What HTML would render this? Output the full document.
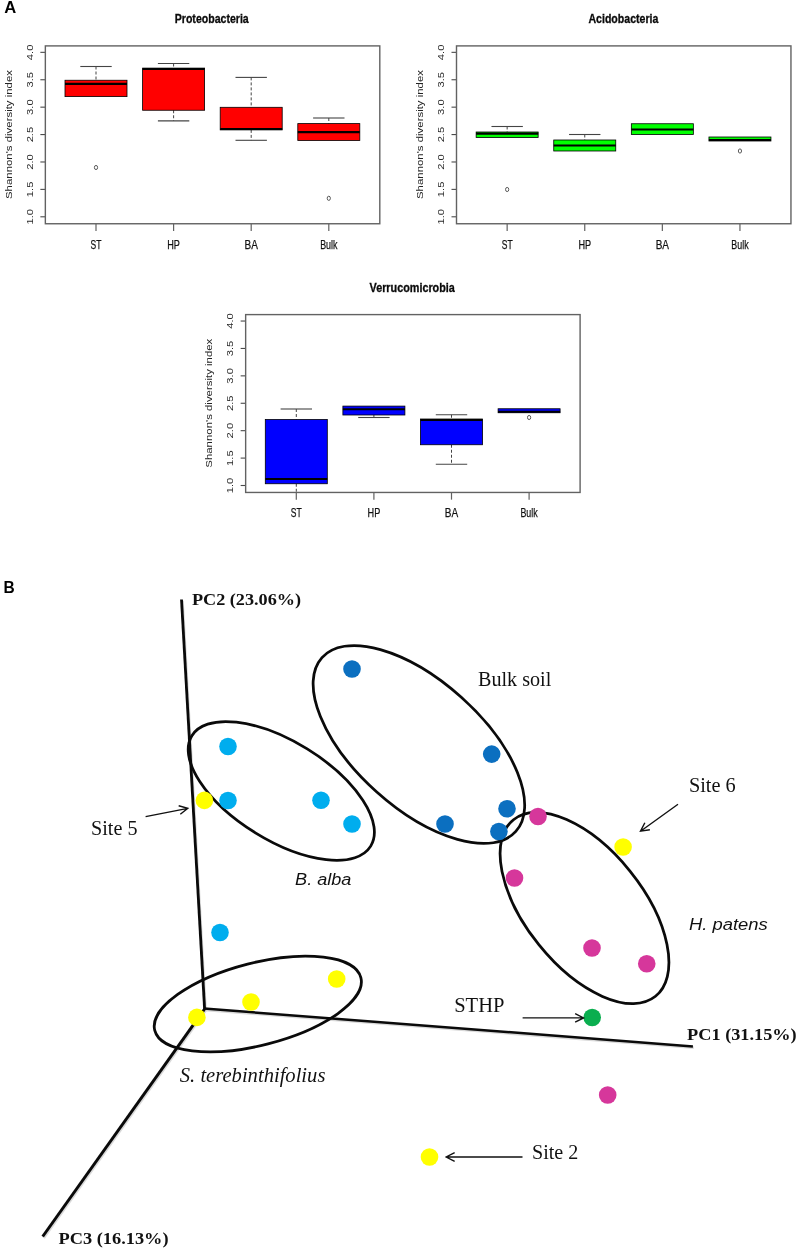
<!DOCTYPE html>
<html lang="en"><head><meta charset="utf-8"><title>Figure</title>
<style>html,body{margin:0;padding:0;background:#fff}svg{display:block}</style></head>
<body>
<svg width="800" height="1252" viewBox="0 0 800 1252">
<rect width="800" height="1252" fill="#fff"/>
<text x="4.3" y="12.9" font-size="16.6" font-weight="bold" font-family="Liberation Sans, sans-serif" fill="#000">A</text>
<text x="3.4" y="592.7" font-size="16.6" font-weight="bold" textLength="11.2" lengthAdjust="spacingAndGlyphs" font-family="Liberation Sans, sans-serif" fill="#000">B</text>
<g>
<text x="211.75" y="23.3" font-size="12.6" text-anchor="middle" font-weight="bold" font-style="normal" font-family="Liberation Sans, sans-serif" fill="#0a0a0a" stroke="#0a0a0a" stroke-width="0.3" textLength="74" lengthAdjust="spacingAndGlyphs">Proteobacteria</text>
<text transform="translate(11.6,134.5) rotate(-90)" font-size="8.6" text-anchor="middle" font-family="Liberation Sans, sans-serif" fill="#222" textLength="129" lengthAdjust="spacingAndGlyphs">Shannon&#39;s diversity index</text>
<line x1="40.35" y1="216.80" x2="45.35" y2="216.80" stroke="#4a4a4a" stroke-width="1.1"/>
<text transform="translate(32.6,216.8) rotate(-90)" font-size="8.6" text-anchor="middle" font-family="Liberation Sans, sans-serif" fill="#2a2a2a" textLength="15.6" lengthAdjust="spacingAndGlyphs">1.0</text>
<line x1="40.35" y1="189.39" x2="45.35" y2="189.39" stroke="#4a4a4a" stroke-width="1.1"/>
<text transform="translate(32.6,189.39) rotate(-90)" font-size="8.6" text-anchor="middle" font-family="Liberation Sans, sans-serif" fill="#2a2a2a" textLength="15.6" lengthAdjust="spacingAndGlyphs">1.5</text>
<line x1="40.35" y1="161.98" x2="45.35" y2="161.98" stroke="#4a4a4a" stroke-width="1.1"/>
<text transform="translate(32.6,161.98) rotate(-90)" font-size="8.6" text-anchor="middle" font-family="Liberation Sans, sans-serif" fill="#2a2a2a" textLength="15.6" lengthAdjust="spacingAndGlyphs">2.0</text>
<line x1="40.35" y1="134.57" x2="45.35" y2="134.57" stroke="#4a4a4a" stroke-width="1.1"/>
<text transform="translate(32.6,134.57) rotate(-90)" font-size="8.6" text-anchor="middle" font-family="Liberation Sans, sans-serif" fill="#2a2a2a" textLength="15.6" lengthAdjust="spacingAndGlyphs">2.5</text>
<line x1="40.35" y1="107.16" x2="45.35" y2="107.16" stroke="#4a4a4a" stroke-width="1.1"/>
<text transform="translate(32.6,107.16) rotate(-90)" font-size="8.6" text-anchor="middle" font-family="Liberation Sans, sans-serif" fill="#2a2a2a" textLength="15.6" lengthAdjust="spacingAndGlyphs">3.0</text>
<line x1="40.35" y1="79.75" x2="45.35" y2="79.75" stroke="#4a4a4a" stroke-width="1.1"/>
<text transform="translate(32.6,79.75) rotate(-90)" font-size="8.6" text-anchor="middle" font-family="Liberation Sans, sans-serif" fill="#2a2a2a" textLength="15.6" lengthAdjust="spacingAndGlyphs">3.5</text>
<line x1="40.35" y1="52.34" x2="45.35" y2="52.34" stroke="#4a4a4a" stroke-width="1.1"/>
<text transform="translate(32.6,52.34) rotate(-90)" font-size="8.6" text-anchor="middle" font-family="Liberation Sans, sans-serif" fill="#2a2a2a" textLength="15.6" lengthAdjust="spacingAndGlyphs">4.0</text>
<line x1="96.0" y1="223.75" x2="96.0" y2="230.95" stroke="#626262" stroke-width="1.2"/>
<text x="96.0" y="248.6" font-size="12.5" text-anchor="middle" font-weight="normal" font-style="normal" font-family="Liberation Sans, sans-serif" fill="#111" stroke="#111" stroke-width="0.25" textLength="10.9" lengthAdjust="spacingAndGlyphs">ST</text>
<line x1="173.6" y1="223.75" x2="173.6" y2="230.95" stroke="#626262" stroke-width="1.2"/>
<text x="173.6" y="248.6" font-size="12.5" text-anchor="middle" font-weight="normal" font-style="normal" font-family="Liberation Sans, sans-serif" fill="#111" stroke="#111" stroke-width="0.25" textLength="12.7" lengthAdjust="spacingAndGlyphs">HP</text>
<line x1="251.2" y1="223.75" x2="251.2" y2="230.95" stroke="#626262" stroke-width="1.2"/>
<text x="251.2" y="248.6" font-size="12.5" text-anchor="middle" font-weight="normal" font-style="normal" font-family="Liberation Sans, sans-serif" fill="#111" stroke="#111" stroke-width="0.25" textLength="13.4" lengthAdjust="spacingAndGlyphs">BA</text>
<line x1="328.8" y1="223.75" x2="328.8" y2="230.95" stroke="#626262" stroke-width="1.2"/>
<text x="328.8" y="248.6" font-size="12.5" text-anchor="middle" font-weight="normal" font-style="normal" font-family="Liberation Sans, sans-serif" fill="#111" stroke="#111" stroke-width="0.25" textLength="17.3" lengthAdjust="spacingAndGlyphs">Bulk</text>
<line x1="96.0" y1="66.5" x2="96.0" y2="80.25" stroke="#444" stroke-width="1" stroke-dasharray="3,2"/>
<line x1="80.3" y1="66.5" x2="111.7" y2="66.5" stroke="#444" stroke-width="1.1"/>
<rect x="65.0" y="80.25" width="62.0" height="16.35" fill="#ff0000" stroke="#000" stroke-width="0.8"/>
<line x1="65.0" y1="83.9" x2="127.0" y2="83.9" stroke="#000" stroke-width="2.2"/>
<ellipse cx="96.0" cy="167.5" rx="1.6" ry="2.1" fill="none" stroke="#333" stroke-width="0.8"/>
<line x1="173.6" y1="63.5" x2="173.6" y2="68.1" stroke="#444" stroke-width="1" stroke-dasharray="3,2"/>
<line x1="157.9" y1="63.5" x2="189.29999999999998" y2="63.5" stroke="#444" stroke-width="1.1"/>
<line x1="173.6" y1="110.25" x2="173.6" y2="120.9" stroke="#444" stroke-width="1" stroke-dasharray="3,2"/>
<line x1="157.9" y1="120.9" x2="189.29999999999998" y2="120.9" stroke="#444" stroke-width="1.1"/>
<rect x="142.6" y="68.1" width="62.0" height="42.15" fill="#ff0000" stroke="#000" stroke-width="0.8"/>
<line x1="142.6" y1="69.0" x2="204.6" y2="69.0" stroke="#000" stroke-width="2.2"/>
<line x1="251.2" y1="77.4" x2="251.2" y2="107.3" stroke="#444" stroke-width="1" stroke-dasharray="3,2"/>
<line x1="235.5" y1="77.4" x2="266.9" y2="77.4" stroke="#444" stroke-width="1.1"/>
<line x1="251.2" y1="129.9" x2="251.2" y2="140.3" stroke="#444" stroke-width="1" stroke-dasharray="3,2"/>
<line x1="235.5" y1="140.3" x2="266.9" y2="140.3" stroke="#444" stroke-width="1.1"/>
<rect x="220.2" y="107.3" width="62.0" height="22.60" fill="#ff0000" stroke="#000" stroke-width="0.8"/>
<line x1="220.2" y1="129.0" x2="282.2" y2="129.0" stroke="#000" stroke-width="2.2"/>
<line x1="328.8" y1="118.0" x2="328.8" y2="123.6" stroke="#444" stroke-width="1" stroke-dasharray="3,2"/>
<line x1="313.1" y1="118.0" x2="344.5" y2="118.0" stroke="#444" stroke-width="1.1"/>
<rect x="297.8" y="123.6" width="62.0" height="16.90" fill="#ff0000" stroke="#000" stroke-width="0.8"/>
<line x1="297.8" y1="132.2" x2="359.8" y2="132.2" stroke="#000" stroke-width="2.2"/>
<ellipse cx="328.8" cy="198.3" rx="1.6" ry="2.1" fill="none" stroke="#333" stroke-width="0.8"/>
<rect x="45.35" y="45.9" width="334.45" height="177.85" fill="none" stroke="#626262" stroke-width="1.4"/>
</g>
<g>
<text x="623.4" y="23.3" font-size="12.6" text-anchor="middle" font-weight="bold" font-style="normal" font-family="Liberation Sans, sans-serif" fill="#0a0a0a" stroke="#0a0a0a" stroke-width="0.3" textLength="69.9" lengthAdjust="spacingAndGlyphs">Acidobacteria</text>
<text transform="translate(422.75,134.5) rotate(-90)" font-size="8.6" text-anchor="middle" font-family="Liberation Sans, sans-serif" fill="#222" textLength="129" lengthAdjust="spacingAndGlyphs">Shannon&#39;s diversity index</text>
<line x1="451.5" y1="216.80" x2="456.5" y2="216.80" stroke="#4a4a4a" stroke-width="1.1"/>
<text transform="translate(443.75,216.8) rotate(-90)" font-size="8.6" text-anchor="middle" font-family="Liberation Sans, sans-serif" fill="#2a2a2a" textLength="15.6" lengthAdjust="spacingAndGlyphs">1.0</text>
<line x1="451.5" y1="189.39" x2="456.5" y2="189.39" stroke="#4a4a4a" stroke-width="1.1"/>
<text transform="translate(443.75,189.39) rotate(-90)" font-size="8.6" text-anchor="middle" font-family="Liberation Sans, sans-serif" fill="#2a2a2a" textLength="15.6" lengthAdjust="spacingAndGlyphs">1.5</text>
<line x1="451.5" y1="161.98" x2="456.5" y2="161.98" stroke="#4a4a4a" stroke-width="1.1"/>
<text transform="translate(443.75,161.98) rotate(-90)" font-size="8.6" text-anchor="middle" font-family="Liberation Sans, sans-serif" fill="#2a2a2a" textLength="15.6" lengthAdjust="spacingAndGlyphs">2.0</text>
<line x1="451.5" y1="134.57" x2="456.5" y2="134.57" stroke="#4a4a4a" stroke-width="1.1"/>
<text transform="translate(443.75,134.57) rotate(-90)" font-size="8.6" text-anchor="middle" font-family="Liberation Sans, sans-serif" fill="#2a2a2a" textLength="15.6" lengthAdjust="spacingAndGlyphs">2.5</text>
<line x1="451.5" y1="107.16" x2="456.5" y2="107.16" stroke="#4a4a4a" stroke-width="1.1"/>
<text transform="translate(443.75,107.16) rotate(-90)" font-size="8.6" text-anchor="middle" font-family="Liberation Sans, sans-serif" fill="#2a2a2a" textLength="15.6" lengthAdjust="spacingAndGlyphs">3.0</text>
<line x1="451.5" y1="79.75" x2="456.5" y2="79.75" stroke="#4a4a4a" stroke-width="1.1"/>
<text transform="translate(443.75,79.75) rotate(-90)" font-size="8.6" text-anchor="middle" font-family="Liberation Sans, sans-serif" fill="#2a2a2a" textLength="15.6" lengthAdjust="spacingAndGlyphs">3.5</text>
<line x1="451.5" y1="52.34" x2="456.5" y2="52.34" stroke="#4a4a4a" stroke-width="1.1"/>
<text transform="translate(443.75,52.34) rotate(-90)" font-size="8.6" text-anchor="middle" font-family="Liberation Sans, sans-serif" fill="#2a2a2a" textLength="15.6" lengthAdjust="spacingAndGlyphs">4.0</text>
<line x1="507.15" y1="223.75" x2="507.15" y2="230.95" stroke="#626262" stroke-width="1.2"/>
<text x="507.15" y="248.6" font-size="12.5" text-anchor="middle" font-weight="normal" font-style="normal" font-family="Liberation Sans, sans-serif" fill="#111" stroke="#111" stroke-width="0.25" textLength="10.9" lengthAdjust="spacingAndGlyphs">ST</text>
<line x1="584.75" y1="223.75" x2="584.75" y2="230.95" stroke="#626262" stroke-width="1.2"/>
<text x="584.75" y="248.6" font-size="12.5" text-anchor="middle" font-weight="normal" font-style="normal" font-family="Liberation Sans, sans-serif" fill="#111" stroke="#111" stroke-width="0.25" textLength="12.7" lengthAdjust="spacingAndGlyphs">HP</text>
<line x1="662.3499999999999" y1="223.75" x2="662.3499999999999" y2="230.95" stroke="#626262" stroke-width="1.2"/>
<text x="662.3499999999999" y="248.6" font-size="12.5" text-anchor="middle" font-weight="normal" font-style="normal" font-family="Liberation Sans, sans-serif" fill="#111" stroke="#111" stroke-width="0.25" textLength="13.4" lengthAdjust="spacingAndGlyphs">BA</text>
<line x1="739.95" y1="223.75" x2="739.95" y2="230.95" stroke="#626262" stroke-width="1.2"/>
<text x="739.95" y="248.6" font-size="12.5" text-anchor="middle" font-weight="normal" font-style="normal" font-family="Liberation Sans, sans-serif" fill="#111" stroke="#111" stroke-width="0.25" textLength="17.3" lengthAdjust="spacingAndGlyphs">Bulk</text>
<line x1="507.15" y1="126.5" x2="507.15" y2="132.0" stroke="#444" stroke-width="1" stroke-dasharray="3,2"/>
<line x1="491.45" y1="126.5" x2="522.85" y2="126.5" stroke="#444" stroke-width="1.1"/>
<rect x="476.15" y="132.0" width="62.0" height="5.50" fill="#00ff00" stroke="#000" stroke-width="0.8"/>
<line x1="476.15" y1="133.6" x2="538.15" y2="133.6" stroke="#000" stroke-width="2.2"/>
<ellipse cx="507.15" cy="189.5" rx="1.6" ry="2.1" fill="none" stroke="#333" stroke-width="0.8"/>
<line x1="584.75" y1="134.5" x2="584.75" y2="140.0" stroke="#444" stroke-width="1" stroke-dasharray="3,2"/>
<line x1="569.05" y1="134.5" x2="600.45" y2="134.5" stroke="#444" stroke-width="1.1"/>
<rect x="553.75" y="140.0" width="62.0" height="11.00" fill="#00ff00" stroke="#000" stroke-width="0.8"/>
<line x1="553.75" y1="145.5" x2="615.75" y2="145.5" stroke="#000" stroke-width="2.2"/>
<rect x="631.3499999999999" y="123.75" width="62.0" height="10.75" fill="#00ff00" stroke="#000" stroke-width="0.8"/>
<line x1="631.3499999999999" y1="129.5" x2="693.3499999999999" y2="129.5" stroke="#000" stroke-width="2.2"/>
<rect x="708.95" y="137.0" width="62.0" height="4.00" fill="#00ff00" stroke="#000" stroke-width="0.8"/>
<line x1="708.95" y1="140.0" x2="770.95" y2="140.0" stroke="#000" stroke-width="2.2"/>
<ellipse cx="739.95" cy="151.0" rx="1.6" ry="2.1" fill="none" stroke="#333" stroke-width="0.8"/>
<rect x="456.5" y="45.9" width="334.45" height="177.85" fill="none" stroke="#626262" stroke-width="1.4"/>
</g>
<g>
<text x="412.2" y="292.0" font-size="12.6" text-anchor="middle" font-weight="bold" font-style="normal" font-family="Liberation Sans, sans-serif" fill="#0a0a0a" stroke="#0a0a0a" stroke-width="0.3" textLength="85.3" lengthAdjust="spacingAndGlyphs">Verrucomicrobia</text>
<text transform="translate(211.9,403.2) rotate(-90)" font-size="8.6" text-anchor="middle" font-family="Liberation Sans, sans-serif" fill="#222" textLength="129" lengthAdjust="spacingAndGlyphs">Shannon&#39;s diversity index</text>
<line x1="240.65" y1="485.50" x2="245.65" y2="485.50" stroke="#4a4a4a" stroke-width="1.1"/>
<text transform="translate(232.9,485.5) rotate(-90)" font-size="8.6" text-anchor="middle" font-family="Liberation Sans, sans-serif" fill="#2a2a2a" textLength="15.6" lengthAdjust="spacingAndGlyphs">1.0</text>
<line x1="240.65" y1="458.09" x2="245.65" y2="458.09" stroke="#4a4a4a" stroke-width="1.1"/>
<text transform="translate(232.9,458.09) rotate(-90)" font-size="8.6" text-anchor="middle" font-family="Liberation Sans, sans-serif" fill="#2a2a2a" textLength="15.6" lengthAdjust="spacingAndGlyphs">1.5</text>
<line x1="240.65" y1="430.68" x2="245.65" y2="430.68" stroke="#4a4a4a" stroke-width="1.1"/>
<text transform="translate(232.9,430.68) rotate(-90)" font-size="8.6" text-anchor="middle" font-family="Liberation Sans, sans-serif" fill="#2a2a2a" textLength="15.6" lengthAdjust="spacingAndGlyphs">2.0</text>
<line x1="240.65" y1="403.27" x2="245.65" y2="403.27" stroke="#4a4a4a" stroke-width="1.1"/>
<text transform="translate(232.9,403.27) rotate(-90)" font-size="8.6" text-anchor="middle" font-family="Liberation Sans, sans-serif" fill="#2a2a2a" textLength="15.6" lengthAdjust="spacingAndGlyphs">2.5</text>
<line x1="240.65" y1="375.86" x2="245.65" y2="375.86" stroke="#4a4a4a" stroke-width="1.1"/>
<text transform="translate(232.9,375.86) rotate(-90)" font-size="8.6" text-anchor="middle" font-family="Liberation Sans, sans-serif" fill="#2a2a2a" textLength="15.6" lengthAdjust="spacingAndGlyphs">3.0</text>
<line x1="240.65" y1="348.45" x2="245.65" y2="348.45" stroke="#4a4a4a" stroke-width="1.1"/>
<text transform="translate(232.9,348.45) rotate(-90)" font-size="8.6" text-anchor="middle" font-family="Liberation Sans, sans-serif" fill="#2a2a2a" textLength="15.6" lengthAdjust="spacingAndGlyphs">3.5</text>
<line x1="240.65" y1="321.04" x2="245.65" y2="321.04" stroke="#4a4a4a" stroke-width="1.1"/>
<text transform="translate(232.9,321.04) rotate(-90)" font-size="8.6" text-anchor="middle" font-family="Liberation Sans, sans-serif" fill="#2a2a2a" textLength="15.6" lengthAdjust="spacingAndGlyphs">4.0</text>
<line x1="296.3" y1="492.45" x2="296.3" y2="499.65" stroke="#626262" stroke-width="1.2"/>
<text x="296.3" y="517.3" font-size="12.5" text-anchor="middle" font-weight="normal" font-style="normal" font-family="Liberation Sans, sans-serif" fill="#111" stroke="#111" stroke-width="0.25" textLength="10.9" lengthAdjust="spacingAndGlyphs">ST</text>
<line x1="373.9" y1="492.45" x2="373.9" y2="499.65" stroke="#626262" stroke-width="1.2"/>
<text x="373.9" y="517.3" font-size="12.5" text-anchor="middle" font-weight="normal" font-style="normal" font-family="Liberation Sans, sans-serif" fill="#111" stroke="#111" stroke-width="0.25" textLength="12.7" lengthAdjust="spacingAndGlyphs">HP</text>
<line x1="451.5" y1="492.45" x2="451.5" y2="499.65" stroke="#626262" stroke-width="1.2"/>
<text x="451.5" y="517.3" font-size="12.5" text-anchor="middle" font-weight="normal" font-style="normal" font-family="Liberation Sans, sans-serif" fill="#111" stroke="#111" stroke-width="0.25" textLength="13.4" lengthAdjust="spacingAndGlyphs">BA</text>
<line x1="529.1" y1="492.45" x2="529.1" y2="499.65" stroke="#626262" stroke-width="1.2"/>
<text x="529.1" y="517.3" font-size="12.5" text-anchor="middle" font-weight="normal" font-style="normal" font-family="Liberation Sans, sans-serif" fill="#111" stroke="#111" stroke-width="0.25" textLength="17.3" lengthAdjust="spacingAndGlyphs">Bulk</text>
<line x1="296.3" y1="409.0" x2="296.3" y2="419.5" stroke="#444" stroke-width="1" stroke-dasharray="3,2"/>
<line x1="280.6" y1="409.0" x2="312.0" y2="409.0" stroke="#444" stroke-width="1.1"/>
<line x1="296.3" y1="483.75" x2="296.3" y2="492.5" stroke="#444" stroke-width="1" stroke-dasharray="3,2"/>
<rect x="265.3" y="419.5" width="62.0" height="64.25" fill="#0000ff" stroke="#000" stroke-width="0.8"/>
<line x1="265.3" y1="479.0" x2="327.3" y2="479.0" stroke="#000" stroke-width="2.2"/>
<line x1="373.9" y1="415.0" x2="373.9" y2="417.5" stroke="#444" stroke-width="1" stroke-dasharray="3,2"/>
<line x1="358.2" y1="417.5" x2="389.59999999999997" y2="417.5" stroke="#444" stroke-width="1.1"/>
<rect x="342.9" y="406.1" width="62.0" height="8.90" fill="#0000ff" stroke="#000" stroke-width="0.8"/>
<line x1="342.9" y1="409.25" x2="404.9" y2="409.25" stroke="#000" stroke-width="2.2"/>
<line x1="451.5" y1="414.75" x2="451.5" y2="419.0" stroke="#444" stroke-width="1" stroke-dasharray="3,2"/>
<line x1="435.8" y1="414.75" x2="467.2" y2="414.75" stroke="#444" stroke-width="1.1"/>
<line x1="451.5" y1="444.75" x2="451.5" y2="464.25" stroke="#444" stroke-width="1" stroke-dasharray="3,2"/>
<line x1="435.8" y1="464.25" x2="467.2" y2="464.25" stroke="#444" stroke-width="1.1"/>
<rect x="420.5" y="419.0" width="62.0" height="25.75" fill="#0000ff" stroke="#000" stroke-width="0.8"/>
<line x1="420.5" y1="420.0" x2="482.5" y2="420.0" stroke="#000" stroke-width="2.2"/>
<rect x="498.1" y="408.75" width="62.0" height="4.00" fill="#0000ff" stroke="#000" stroke-width="0.8"/>
<line x1="498.1" y1="411.75" x2="560.1" y2="411.75" stroke="#000" stroke-width="2.2"/>
<ellipse cx="529.1" cy="417.5" rx="1.6" ry="2.1" fill="none" stroke="#333" stroke-width="0.8"/>
<rect x="245.65" y="314.59999999999997" width="334.45" height="177.85" fill="none" stroke="#626262" stroke-width="1.4"/>
</g>
<g stroke="#d9d9d9" fill="none">
<line x1="182.4" y1="600.9" x2="205.5" y2="1010.3" stroke-width="2.8"/>
<line x1="204.9" y1="1010.0" x2="693.8" y2="1047.8000000000002" stroke-width="2.5"/>
<line x1="206.20000000000002" y1="1009.4" x2="43.6" y2="1237.9" stroke-width="3.0"/>
</g>
<g stroke="#0a0a0a" stroke-linecap="butt" fill="none">
<line x1="181.5" y1="599.5" x2="204.6" y2="1008.9" stroke-width="2.8"/>
<line x1="204.0" y1="1008.6" x2="692.9" y2="1046.4" stroke-width="2.5"/>
<line x1="205.3" y1="1008.0" x2="42.7" y2="1236.5" stroke-width="3.0"/>
</g>
<ellipse cx="0" cy="0" rx="105.1" ry="49.3" transform="translate(281.3,790.9) rotate(31.7)" fill="none" stroke="#0a0a0a" stroke-width="2.75"/>
<ellipse cx="0" cy="0" rx="130.2" ry="63.5" transform="translate(418.9,744.5) rotate(41.9)" fill="none" stroke="#0a0a0a" stroke-width="2.75"/>
<ellipse cx="0" cy="0" rx="113.3" ry="58.6" transform="translate(584.5,908) rotate(51.2)" fill="none" stroke="#0a0a0a" stroke-width="2.75"/>
<ellipse cx="0" cy="0" rx="106.4" ry="41.2" transform="translate(257.8,1004) rotate(-14.4)" fill="none" stroke="#0a0a0a" stroke-width="2.75"/>
<circle cx="228" cy="746.5" r="8.8" fill="#00adee"/>
<circle cx="228" cy="800.5" r="8.8" fill="#00adee"/>
<circle cx="321" cy="800.3" r="8.8" fill="#00adee"/>
<circle cx="352" cy="824" r="8.8" fill="#00adee"/>
<circle cx="220" cy="932.5" r="8.8" fill="#00adee"/>
<circle cx="352" cy="669" r="8.8" fill="#0b6fc0"/>
<circle cx="491.7" cy="754.1" r="8.8" fill="#0b6fc0"/>
<circle cx="507" cy="808.7" r="8.8" fill="#0b6fc0"/>
<circle cx="445" cy="824" r="8.8" fill="#0b6fc0"/>
<circle cx="498.9" cy="831.5" r="8.8" fill="#0b6fc0"/>
<circle cx="538" cy="816.5" r="8.8" fill="#d6379b"/>
<circle cx="514.5" cy="878" r="8.8" fill="#d6379b"/>
<circle cx="592" cy="948" r="8.8" fill="#d6379b"/>
<circle cx="646.75" cy="963.75" r="8.8" fill="#d6379b"/>
<circle cx="607.7" cy="1095" r="8.8" fill="#d6379b"/>
<circle cx="204.4" cy="800.4" r="8.8" fill="#ffff00"/>
<circle cx="623.1" cy="847" r="8.8" fill="#ffff00"/>
<circle cx="196.9" cy="1017.4" r="8.8" fill="#ffff00"/>
<circle cx="251" cy="1002" r="8.8" fill="#ffff00"/>
<circle cx="336.7" cy="979" r="8.8" fill="#ffff00"/>
<circle cx="429.5" cy="1157" r="8.8" fill="#ffff00"/>
<circle cx="592.2" cy="1017.5" r="8.8" fill="#0aae4f"/>
<path d="M145.6,816.6 L187.8,808.4 M180.31,814.25 L187.8,808.4 L178.67,805.78" fill="none" stroke="#111" stroke-width="1.4" stroke-linejoin="miter"/>
<path d="M678,804.25 L640.5,831.2 M644.86,822.76 L640.5,831.2 L649.89,829.76" fill="none" stroke="#111" stroke-width="1.4" stroke-linejoin="miter"/>
<path d="M522.6,1017.9 L583.6,1017.9 M575.14,1022.21 L583.6,1017.9 L575.14,1013.59" fill="none" stroke="#111" stroke-width="1.4" stroke-linejoin="miter"/>
<path d="M522.5,1157 L446.2,1157 M454.66,1152.69 L446.2,1157 L454.66,1161.31" fill="none" stroke="#111" stroke-width="1.4" stroke-linejoin="miter"/>
<text x="191.9" y="605.4" font-size="16.8" text-anchor="start" font-weight="bold" font-style="normal" font-family="Liberation Serif, serif" fill="#111" textLength="109.2" lengthAdjust="spacingAndGlyphs">PC2 (23.06%)</text>
<text x="687.1" y="1039.5" font-size="16.8" text-anchor="start" font-weight="bold" font-style="normal" font-family="Liberation Serif, serif" fill="#111" textLength="109.6" lengthAdjust="spacingAndGlyphs">PC1 (31.15%)</text>
<text x="58.5" y="1243.8" font-size="16.8" text-anchor="start" font-weight="bold" font-style="normal" font-family="Liberation Serif, serif" fill="#111" textLength="110.0" lengthAdjust="spacingAndGlyphs">PC3 (16.13%)</text>
<text x="478" y="686.1" font-size="20" text-anchor="start" font-weight="normal" font-style="normal" font-family="Liberation Serif, serif" fill="#111" textLength="73.3" lengthAdjust="spacingAndGlyphs">Bulk soil</text>
<text x="91.0" y="834.7" font-size="20" text-anchor="start" font-weight="normal" font-style="normal" font-family="Liberation Serif, serif" fill="#111" textLength="46.5" lengthAdjust="spacingAndGlyphs">Site 5</text>
<text x="688.9" y="792.1" font-size="20" text-anchor="start" font-weight="normal" font-style="normal" font-family="Liberation Serif, serif" fill="#111" textLength="46.8" lengthAdjust="spacingAndGlyphs">Site 6</text>
<text x="532.0" y="1158.75" font-size="20" text-anchor="start" font-weight="normal" font-style="normal" font-family="Liberation Serif, serif" fill="#111" textLength="46.3" lengthAdjust="spacingAndGlyphs">Site 2</text>
<text x="454.2" y="1012.4" font-size="20" text-anchor="start" font-weight="normal" font-style="normal" font-family="Liberation Serif, serif" fill="#111" textLength="50.2" lengthAdjust="spacingAndGlyphs">STHP</text>
<text x="179.8" y="1081.9" font-size="20" text-anchor="start" font-weight="normal" font-style="italic" font-family="Liberation Serif, serif" fill="#111" textLength="145.6" lengthAdjust="spacingAndGlyphs">S. terebinthifolius</text>
<text x="295.1" y="884.8" font-size="16.8" text-anchor="start" font-weight="normal" font-style="italic" font-family="Liberation Sans, sans-serif" fill="#111" textLength="56.3" lengthAdjust="spacingAndGlyphs">B. alba</text>
<text x="689.0" y="929.9" font-size="16.8" text-anchor="start" font-weight="normal" font-style="italic" font-family="Liberation Sans, sans-serif" fill="#111" textLength="78.8" lengthAdjust="spacingAndGlyphs">H. patens</text>
</svg>
</body></html>
